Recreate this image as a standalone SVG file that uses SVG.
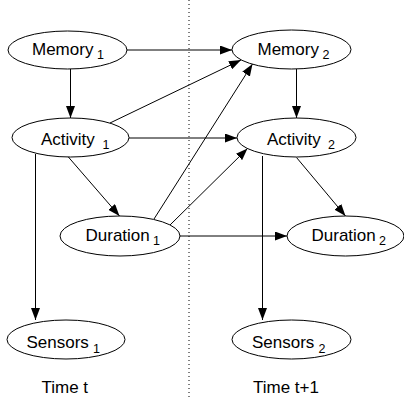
<svg xmlns="http://www.w3.org/2000/svg" width="404" height="397" viewBox="0 0 404 397">
<style>
.node ellipse{fill:#fff;stroke:#000;stroke-width:1}
.lbl{font-family:"Liberation Sans",Arial,sans-serif;font-size:17px;fill:#000}
.sub{font-family:"Liberation Sans",Arial,sans-serif;font-size:12.5px;fill:#000}
.edges line{stroke:#000;stroke-width:1}
</style>
<defs>
<marker id="ah" markerWidth="12" markerHeight="9" refX="12" refY="4.5" orient="auto" markerUnits="userSpaceOnUse">
<path d="M0,0 L12,4.5 L0,9 Z" fill="#000"/>
</marker>
</defs>
<line x1="189" y1="0" x2="189" y2="397" stroke="#000" stroke-width="1" stroke-dasharray="1,3"/>
<g class="edges" id="edges">
<line x1="127" y1="50" x2="232" y2="50" marker-end="url(#ah)"/>
<line x1="70.5" y1="69" x2="70.5" y2="118" marker-end="url(#ah)"/>
<line x1="110" y1="123" x2="241" y2="60" marker-end="url(#ah)"/>
<line x1="129" y1="138" x2="237" y2="138" marker-end="url(#ah)"/>
<line x1="67.5" y1="156" x2="119.5" y2="216" marker-end="url(#ah)"/>
<line x1="154" y1="219" x2="252.5" y2="64" marker-end="url(#ah)"/>
<line x1="170" y1="225" x2="247.5" y2="148.5" marker-end="url(#ah)"/>
<line x1="180" y1="236" x2="287" y2="236" marker-end="url(#ah)"/>
<line x1="35.5" y1="154" x2="35.5" y2="320" marker-end="url(#ah)"/>
<line x1="296.5" y1="69" x2="296.5" y2="118" marker-end="url(#ah)"/>
<line x1="296.5" y1="157.5" x2="345.5" y2="216" marker-end="url(#ah)"/>
<line x1="262.5" y1="156" x2="262.5" y2="320" marker-end="url(#ah)"/>
</g>
<g class="node" id="memory1"><ellipse cx="67.5" cy="50" rx="59.5" ry="19"/><text class="lbl" x="32" y="55">Memory</text><text class="sub" x="97" y="59">1</text></g>
<g class="node" id="activity1"><ellipse cx="70.5" cy="137.5" rx="58.5" ry="19.5"/><text class="lbl" x="41" y="144.5">Activity</text><text class="sub" x="102.5" y="149">1</text></g>
<g class="node" id="memory2"><ellipse cx="291.5" cy="49.5" rx="59.5" ry="19.5"/><text class="lbl" x="257.5" y="54.5">Memory</text><text class="sub" x="322.5" y="59">2</text></g>
<g class="node" id="activity2"><ellipse cx="296.5" cy="137.5" rx="59.5" ry="19.5"/><text class="lbl" x="267" y="144.5">Activity</text><text class="sub" x="328" y="149">2</text></g>
<g class="node" id="duration1"><ellipse cx="120" cy="236" rx="60" ry="20"/><text class="lbl" x="85.5" y="240.5">Duration</text><text class="sub" x="153" y="245">1</text></g>
<g class="node" id="duration2"><ellipse cx="345.5" cy="236" rx="58.5" ry="20"/><text class="lbl" x="311.5" y="240.5">Duration</text><text class="sub" x="379" y="245">2</text></g>
<g class="node" id="sensors1"><ellipse cx="66" cy="339.5" rx="59" ry="19.5"/><text class="lbl" x="26.5" y="348">Sensors</text><text class="sub" x="93" y="352.5">1</text></g>
<g class="node" id="sensors2"><ellipse cx="291.5" cy="339.5" rx="59.5" ry="19.5"/><text class="lbl" x="252" y="348">Sensors</text><text class="sub" x="318.5" y="352.5">2</text></g>
<text class="lbl" x="41.5" y="393">Time t</text>
<text class="lbl" x="253" y="393">Time t+1</text>
</svg>
